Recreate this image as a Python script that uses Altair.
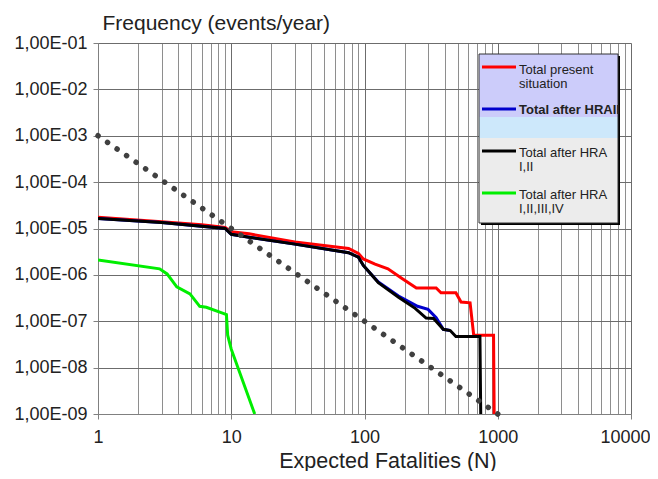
import altair as alt
import pandas as pd

# ---------------- data ----------------
red_N = [1, 3, 6, 9, 10, 13.6, 30, 76, 90, 98, 120, 150, 190, 245, 345, 375, 485, 530, 620, 660, 930, 940]
red_F = [1.75e-5, 1.4e-5, 1.2e-5, 1.05e-5, 8.5e-6, 7.7e-6, 5.1e-6, 3.7e-6, 2.9e-6, 2.2e-6, 1.7e-6,
         1.35e-6, 8.5e-7, 5.2e-7, 5.2e-7, 4.1e-7, 4.1e-7, 2.6e-7, 2.5e-7, 5e-8, 5e-8, 1e-9]

blue_N = [1, 3, 9, 10, 13.6, 30, 76, 90, 98, 110, 127, 180, 250, 300, 345, 390, 440]
blue_F = [1.65e-5, 1.35e-5, 1.0e-5, 7.5e-6, 6.5e-6, 4.6e-6, 3.0e-6, 2.4e-6, 1.6e-6, 1.1e-6, 7e-7,
          3.5e-7, 2.1e-7, 1.8e-7, 1.2e-7, 6.7e-8, 6.3e-8]

black_N = [1, 3, 9, 10, 13.6, 30, 76, 90, 98, 110, 127, 180, 240, 290, 330, 390, 440, 485, 735, 745]
black_F = [1.65e-5, 1.35e-5, 1.0e-5, 7.5e-6, 6.5e-6, 4.6e-6, 3.0e-6, 2.4e-6, 1.6e-6, 1.1e-6, 6.8e-7,
           3.3e-7, 1.9e-7, 1.17e-7, 1.15e-7, 6.7e-8, 6.3e-8, 4.7e-8, 4.7e-8, 1e-9]

green_N = [1, 2.9, 3.3, 3.9, 4.9, 5.8, 6.5, 8.6, 9.2, 9.4, 10, 15]
green_F = [2.1e-6, 1.35e-6, 1.05e-6, 5.5e-7, 3.9e-7, 2.1e-7, 2.0e-7, 1.5e-7, 1.4e-7, 5e-8, 2.5e-8, 1e-9]

criterion_N = [1, 1000]
criterion_F = [1e-3, 1e-9]

series_names = ["Total present situation", "Total after HRAII", "Total after HRA I,II", "Total after HRA I,II,III,IV"]
series_colors = ["#ff0000", "#0000cc", "#000000", "#00ee00"]
legend_texts = [["Total present", "situation"], ["Total after HRAII"], ["Total after HRA", "I,II"],
                ["Total after HRA", "I,II,III,IV"]]

x_ticks = [m * 10 ** k for k in range(4) for m in range(1, 10)] + [10000]
y_ticks = [10.0 ** -k for k in range(1, 10)]

# ---------------- build table ----------------
rows = []
for name, Ns, Fs in zip(series_names, [red_N, blue_N, black_N, green_N], [red_F, blue_F, black_F, green_F]):
    for i, (n, f) in enumerate(zip(Ns, Fs)):
        rows.append({"series": name, "N": n, "F": f, "idx": i})
df = pd.DataFrame(rows)
crit = pd.DataFrame({"N": criterion_N, "F": criterion_F})

W, H = 533, 371
FONT = "Liberation Sans"
decade_test = "abs(log(datum.value)/LN10 - round(log(datum.value)/LN10)) < 0.001"

xscale = alt.Scale(type="log", domain=[1, 10000], nice=False)
yscale = alt.Scale(type="log", domain=[1e-9, 1e-1], nice=False)

x_axis = alt.Axis(
    values=x_ticks,
    labelExpr=f"({decade_test}) ? format(datum.value, 'd') : ''",
    grid=True,
    gridColor={"condition": {"test": decade_test, "value": "#6c6c6c"}, "value": "#8e8e8e"},
    gridWidth=1,
    tickOpacity={"condition": {"test": decade_test, "value": 1}, "value": 0},
    tickColor="#808080", tickSize=5,
    domainColor="#808080",
    labelFont=FONT, labelFontSize=18, labelColor="#222222", labelPadding=9,
    labelOffset={"condition": {"test": "datum.value > 9999", "value": -6}, "value": 0},
    labelFlush=False, labelOverlap=False,
    title="Expected Fatalities (N)", titleFont=FONT, titleFontSize=21.5, titleFontWeight="normal",
    titleColor="#222222", titleX=289.5, titleY=53, titleAlign="center", titleBaseline="alphabetic",
)
y_axis = alt.Axis(
    values=y_ticks,
    labelExpr="'1,00E-' + pad(toString(round(-log(datum.value)/LN10)), 2, '0', 'left')",
    grid=True, gridColor="#6c6c6c", gridWidth=1,
    tickColor="#808080", tickSize=5, domainColor="#808080",
    labelFont=FONT, labelFontSize=18, labelColor="#222222", labelPadding=6,
    labelFlush=False, labelOverlap=False,
    title="Frequency (events/year)", titleFont=FONT, titleFontSize=21, titleFontWeight="normal",
    titleColor="#222222", titleAngle=0, titleAlign="left", titleBaseline="alphabetic",
    titleX=4, titleY=-14,
)

lines = alt.Chart(df).mark_line(strokeWidth=3, clip=True).encode(
    x=alt.X("N:Q", scale=xscale, axis=x_axis),
    y=alt.Y("F:Q", scale=yscale, axis=y_axis),
    color=alt.Color("series:N", scale=alt.Scale(domain=series_names, range=series_colors), legend=None),
    detail="series:N",
    order="idx:Q",
)

dots = alt.Chart(crit).mark_line(
    color="#404040", strokeWidth=5.5, strokeCap="round", strokeDash=[0.1, 11.496]
).encode(
    x=alt.X("N:Q", scale=xscale),
    y=alt.Y("F:Q", scale=yscale),
)

# ---------------- custom legend box ----------------
one = pd.DataFrame({"k": [0]})
base = alt.Chart(one)
lx0, lx1, ly0, ly1 = 381, 520, 11, 180
leg = [
    base.mark_rect(color="#000000").encode(x=alt.value(lx0 + 2), x2=alt.value(lx1 + 2), y=alt.value(ly0 + 2), y2=alt.value(ly1 + 2)),
    base.mark_rect(color="#ececec").encode(x=alt.value(lx0), x2=alt.value(lx1), y=alt.value(ly0), y2=alt.value(ly1)),
    base.mark_rect(color="#ccccfa").encode(x=alt.value(lx0), x2=alt.value(lx1), y=alt.value(ly0), y2=alt.value(74)),
    base.mark_rect(color="#cde8fb").encode(x=alt.value(lx0), x2=alt.value(lx1), y=alt.value(74), y2=alt.value(95)),
    base.mark_rect(fillOpacity=0, stroke="#333333", strokeWidth=1).encode(x=alt.value(lx0), x2=alt.value(lx1), y=alt.value(ly0), y2=alt.value(ly1)),
]
line_y = [24, 66, 108, 150]
text_y = [[31, 45], [71], [114, 128], [156, 170]]
for i, (col, txt) in enumerate(zip(series_colors, legend_texts)):
    leg.append(base.mark_rule(color=col, strokeWidth=3).encode(
        x=alt.value(384), x2=alt.value(418), y=alt.value(line_y[i])))
    for t, ty in zip(txt, text_y[i]):
        leg.append(base.mark_text(
            font=FONT, fontSize=13, color="#222222", align="left", baseline="alphabetic",
            fontWeight="bold" if i == 1 else "normal",
        ).encode(x=alt.value(421), y=alt.value(ty), text=alt.value(t)))

chart = alt.layer(lines, dots, *leg).properties(
    width=W, height=H,
    autosize=alt.AutoSizeParams(type="none"),
    padding={"left": 90, "top": 35, "right": 19, "bottom": 57},
).configure_view(stroke=None, fill="#c0c0c0").configure(background="white")

chart.save("out.html", embed_options={"renderer": "svg", "actions": False})
